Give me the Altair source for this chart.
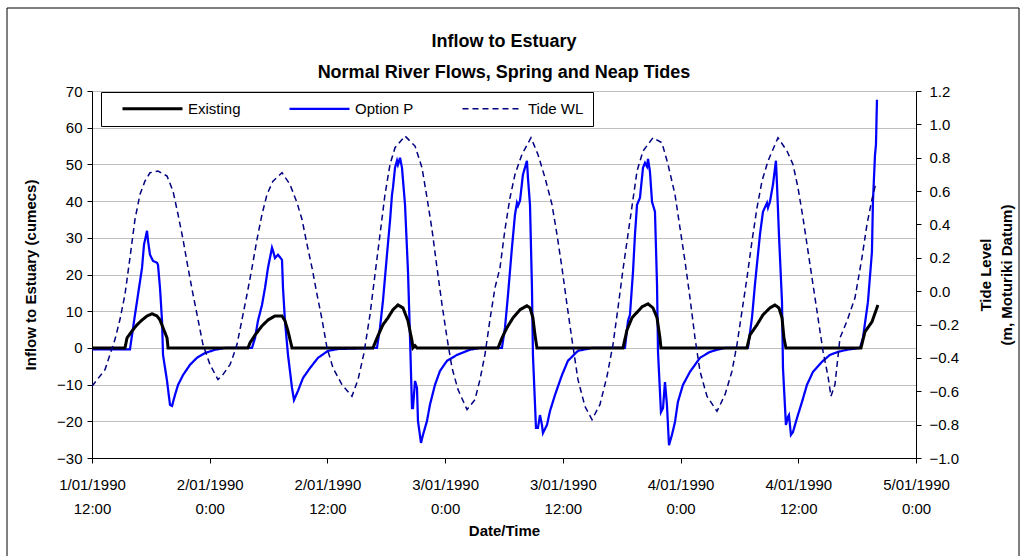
import json

import altair as alt
import pandas as pd

# ---- series names and styles ----
series_names = ["Existing", "Option P", "Tide WL"]
series_colors = ["#000000", "#0000ff", "#000080"]
series_widths = [3, 1.5, 1]
series_dashes = [[1, 0], [1, 0], [6, 4]]

# ---- x axis: hours after 1/01/1990 12:00 ----
x_tick_hours = [0, 12, 24, 36, 48, 60, 72, 84]
x_tick_dates = ["1/01/1990", "2/01/1990", "2/01/1990", "3/01/1990",
                "3/01/1990", "4/01/1990", "4/01/1990", "5/01/1990"]
x_tick_times = ["12:00", "0:00", "12:00", "0:00", "12:00", "0:00", "12:00", "0:00"]

flow_ticks = [-30, -20, -10, 0, 10, 20, 30, 40, 50, 60, 70]
tide_ticks = [-1.0, -0.8, -0.6, -0.4, -0.2, 0.0, 0.2, 0.4, 0.6, 0.8, 1.0, 1.2]

# ---- Existing inflow (cumecs) ----
existing_hours = [
    0, 3.36, 3.47, 3.57, 4.08, 4.59, 5.10, 5.61, 6.12, 6.63, 6.93, 7.24, 7.65, 7.75,
    15.90, 16.11, 16.62, 17.33, 17.94, 18.65, 19.37, 19.67, 19.98, 20.39,
    28.64, 29.15, 29.66, 30.17, 30.68, 31.19, 31.70, 32.21, 32.62, 32.72, 32.93, 33.13,
    41.39, 41.79, 42.30, 42.92, 43.63, 44.34, 44.65, 44.95, 45.16, 45.36,
    54.13, 54.54, 55.05, 56.07, 56.68, 57.19, 57.60, 57.90, 58.00,
    66.77, 67.07, 67.79, 68.40, 69.11, 69.62, 70.03, 70.34, 70.54, 70.74,
    78.39, 78.80, 79.51, 80.12,
]
existing_flow = [
    0, 0, 1.4, 2.7, 4.6, 6.3, 7.6, 8.7, 9.3, 8.7, 7.6, 5.5, 2.7, 0,
    0, 1.4, 3.5, 6.0, 7.6, 8.7, 8.7, 7.4, 4.6, 0,
    0, 3.3, 6.3, 8.2, 10.4, 11.7, 10.9, 7.4, 1.9, 0, 0.6, 0,
    0, 2.7, 5.5, 8.2, 10.4, 11.5, 10.9, 8.2, 3.5, 0,
    0, 4.9, 8.2, 11.2, 12.0, 10.9, 8.2, 2.7, 0,
    0, 3.5, 6.3, 9.0, 10.9, 11.7, 10.9, 8.2, 2.7, 0,
    0, 4.4, 7.1, 11.7,
]

# ---- Option P inflow (cumecs) ----
option_p_hours = [
    0, 3.87, 4.08, 4.38, 4.69, 5.10, 5.30, 5.61, 5.71, 5.91, 6.22, 6.63, 6.73, 6.93,
    7.14, 7.24, 7.65, 7.95, 8.16, 8.46, 8.77, 9.28, 9.99, 10.70, 11.52, 12.54, 13.56,
    16.31, 16.62, 16.92, 17.33, 17.64, 17.94, 18.35, 18.45, 18.65, 18.96, 19.37, 19.47,
    19.67, 19.98, 20.39, 20.59, 21.00, 21.51, 22.22, 23.04, 24.06, 25.08,
    29.05, 29.36, 29.66, 30.07, 30.38, 30.58, 30.68, 30.89, 31.09, 31.19, 31.40, 31.60,
    31.91, 32.21, 32.42, 32.62, 32.72, 32.93, 33.13, 33.23, 33.54, 33.74, 34.15, 34.45,
    34.96, 35.47, 36.19, 37.21, 38.53, 39.55,
    41.79, 42.10, 42.41, 42.81, 43.12, 43.32, 43.43, 43.63, 43.93, 44.34, 44.44, 44.65,
    44.85, 44.95, 45.26, 45.46, 45.67, 45.87, 45.97, 46.38, 46.69, 47.20, 47.91, 48.52,
    49.54, 50.97,
    54.33, 54.64, 54.84, 55.15, 55.35, 55.56, 55.86, 56.17, 56.37, 56.58, 56.68, 56.88,
    57.09, 57.39, 57.60, 57.70, 58.00, 58.21, 58.41, 58.61, 58.82, 59.12, 59.43, 59.73,
    60.24, 60.96, 61.98, 62.99, 63.71, 64.53,
    66.87, 67.28, 67.58, 68.09, 68.40, 68.81, 68.91, 69.11, 69.42, 69.72, 69.83, 70.03,
    70.34, 70.44, 70.74, 70.95, 71.05, 71.25, 71.46, 71.87, 72.38, 72.88, 73.50, 74.41,
    75.23, 76.04, 76.96, 78.29, 78.59, 79.10, 79.51, 79.61, 79.82, 79.92, 80.02,
]
option_p_flow = [
    -0.4, -0.4, 3.5, 9.0, 14.5, 21.8, 28.1, 31.9, 29.2, 25.4, 23.7, 23.2, 22.6, 16.4,
    7.4, -1.9, -9.0, -15.5, -15.8, -12.8, -10.1, -7.4, -4.6, -2.7, -1.4, -0.5, 0,
    0, 2.7, 7.4, 11.7, 16.4, 21.8, 27.3, 26.5, 24.5, 25.4, 24.0, 16.4,
    7.4, -1.9, -10.9, -14.2, -11.7, -8.2, -5.5, -2.7, -0.8, -0.3,
    0, 5.5, 12.8, 25.4, 34.6, 41.7, 43.6, 49.1, 51.0, 49.9, 51.8, 49.1,
    39.0, 21.0, 2.7, -16.4, -16.4, -9.0, -10.9, -19.9, -25.9, -23.7, -19.9, -15.5,
    -10.1, -6.3, -3.5, -1.9, -0.5, 0,
    0, 5.5, 14.5, 27.3, 36.3, 39.5, 38.7, 40.1, 47.2, 51.0, 46.4, 39.0,
    16.4, -1.9, -21.8, -21.8, -18.3, -21.0, -23.2, -21.0, -17.2, -12.8, -7.4, -3.5,
    -0.8, 0,
    0, 7.4, 9.0, 20.7, 30.8, 39.0, 40.9, 49.1, 50.4, 49.4, 51.5, 48.0,
    39.8, 37.1, 17.2, -1.1, -17.5, -16.4, -9.3, -15.5, -26.5, -23.7, -20.2, -14.7,
    -10.1, -6.5, -2.7, -1.1, -0.5, 0,
    0, 8.2, 17.2, 30.8, 37.1, 39.5, 38.2, 39.8, 44.5, 51.0, 44.5, 30.8,
    12.5, -5.5, -21.0, -18.8, -18.3, -23.7, -22.9, -19.1, -14.7, -10.1, -6.5, -3.8,
    -1.9, -1.1, -0.5, 0, 2.7, 12.5, 26.2, 39.8, 52.6, 55.4, 67.6,
]

# ---- Tide water level (m, Moturiki Datum) ----
tide_hours = [
    0, 1.33, 1.83, 2.34, 2.85, 3.36, 3.87, 4.38, 4.89, 5.40, 5.91, 6.73, 7.65, 8.26,
    8.77, 9.28, 9.79, 10.30, 10.81, 11.31, 12.03, 12.84, 13.35, 14.07, 14.27, 14.78,
    15.29, 15.80, 16.31, 16.82, 17.33, 17.84, 18.45, 19.37, 20.18, 20.90, 21.41, 21.92,
    22.43, 22.94, 23.45, 23.96, 24.57, 25.48, 26.50, 27.12, 27.73, 28.34, 28.85, 29.36,
    29.87, 30.38, 30.89, 31.91, 32.93, 33.64, 34.15, 34.66, 35.17, 35.68, 36.19, 36.70,
    37.31, 38.23, 39.04, 39.55, 40.06, 40.57, 41.08, 41.59, 42.10, 42.61, 43.12, 43.83,
    44.75, 45.46, 46.18, 46.89, 47.40, 47.91, 48.42, 48.93, 49.54, 50.25, 50.97, 51.78,
    52.50, 53.11, 53.62, 54.13, 54.64, 55.15, 55.56, 56.17, 57.19, 58.10, 58.72, 59.43,
    59.94, 60.45, 60.96, 61.47, 61.98, 62.69, 63.71, 64.53, 65.24, 65.75, 66.26, 66.77,
    67.28, 67.79, 68.30, 68.91, 69.93, 70.85, 71.46, 71.97, 72.48, 72.99, 73.50, 74.01,
    74.52, 75.03, 75.33, 75.74, 76.25, 76.96, 77.78, 78.49, 79.00, 79.51, 79.92,
]
tide_level = [
    -0.57, -0.47, -0.38, -0.29, -0.17, -0.02, 0.20, 0.43, 0.58, 0.66, 0.71, 0.72, 0.69, 0.60,
    0.46, 0.31, 0.14, -0.02, -0.17, -0.32, -0.44, -0.53, -0.50, -0.44, -0.41, -0.32,
    -0.17, -0.02, 0.14, 0.31, 0.46, 0.58, 0.66, 0.71, 0.64, 0.53, 0.43, 0.28,
    0.14, -0.02, -0.17, -0.34, -0.46, -0.56, -0.63, -0.53, -0.37, -0.14, 0.10, 0.34,
    0.58, 0.76, 0.86, 0.93, 0.87, 0.74, 0.56, 0.37, 0.14, -0.08, -0.28, -0.46,
    -0.59, -0.71, -0.65, -0.53, -0.38, -0.17, 0.02, 0.14, 0.37, 0.56, 0.70, 0.82,
    0.92, 0.82, 0.68, 0.52, 0.34, 0.14, -0.08, -0.29, -0.53, -0.69, -0.77, -0.68,
    -0.51, -0.32, -0.10, 0.13, 0.34, 0.55, 0.72, 0.84, 0.92, 0.89, 0.76, 0.58,
    0.38, 0.18, -0.04, -0.28, -0.48, -0.63, -0.72, -0.62, -0.48, -0.32, -0.12, 0.08,
    0.30, 0.50, 0.66, 0.78, 0.92, 0.84, 0.76, 0.62, 0.44, 0.24, 0.04, -0.16,
    -0.36, -0.51, -0.63, -0.56, -0.28, -0.18, -0.04, 0.20, 0.40, 0.55, 0.65,
]

existing_df = pd.DataFrame({"hours": existing_hours, "flow": existing_flow, "series": "Existing"})
option_p_df = pd.DataFrame({"hours": option_p_hours, "flow": option_p_flow, "series": "Option P"})
tide_df = pd.DataFrame({"hours": tide_hours, "level": tide_level, "series": "Tide WL"})

FONT = "Liberation Sans"
LABEL_SIZE = 15
TITLE_SIZE = 15

# two-line date / time labels looked up by tick index
tick_label_pairs = json.dumps([[d, t] for d, t in zip(x_tick_dates, x_tick_times)])

x_enc = alt.X(
    "hours:Q",
    scale=alt.Scale(domain=[0, 84], nice=False, zero=False),
    axis=alt.Axis(
        values=x_tick_hours,
        labelExpr=f"{tick_label_pairs}[round(datum.value / 12)]",
        title="Date/Time",
        grid=False,
        tickSize=5,
        labelPadding=14,
        labelLineHeight=24,
        labelFlush=False,
        labelOverlap=False,
        titleY=72,
        titleBaseline="middle",
    ),
)

# long horizontal stroke used as the legend sample
legend = alt.Legend(
    title=None,
    orient="none",
    legendX=9,
    legendY=1,
    direction="horizontal",
    symbolType="M1,0H13",
    symbolSize=100,
    labelFontSize=LABEL_SIZE,
    labelFont=FONT,
    labelColor="black",
    labelOffset=63,
    columnPadding=36,
    padding=9,
    strokeColor="black",
    fillColor="white",
)

color_enc = alt.Color("series:N", scale=alt.Scale(domain=series_names, range=series_colors), legend=legend)
width_enc = alt.StrokeWidth("series:N", scale=alt.Scale(domain=series_names, range=series_widths), legend=legend)
dash_enc = alt.StrokeDash("series:N", scale=alt.Scale(domain=series_names, range=series_dashes), legend=legend)

flow_y = alt.Y(
    "flow:Q",
    scale=alt.Scale(domain=[-30, 70], nice=False, zero=False),
    axis=alt.Axis(
        values=flow_ticks,
        title="Inflow to Estuary (cumecs)",
        grid=True,
        gridColor="#c0c0c0",
        tickSize=5,
        labelPadding=5,
        titleX=-54,
        titleAngle=270,
        titleBaseline="bottom",
        titleAlign="center",
    ),
)

option_p_line = alt.Chart(option_p_df).mark_line().encode(
    x=x_enc, y=flow_y, color=color_enc, strokeWidth=width_enc, strokeDash=dash_enc
)
existing_line = alt.Chart(existing_df).mark_line().encode(
    x=x_enc, y=flow_y, color=color_enc, strokeWidth=width_enc, strokeDash=dash_enc
)
flow_layers = alt.layer(option_p_line, existing_line)

tide_line = alt.Chart(tide_df).mark_line().encode(
    x=x_enc,
    y=alt.Y(
        "level:Q",
        scale=alt.Scale(domain=[-1.0, 1.2], nice=False, zero=False),
        axis=alt.Axis(
            orient="right",
            values=tide_ticks,
            format=".1f",
            title=["Tide Level", "(m, Moturiki Datum)"],
            grid=False,
            tickSize=5,
            labelPadding=8,
            titleAngle=270,
            titleBaseline="top",
            titleAlign="center",
            titleX=62,
            titleLineHeight=21,
        ),
    ),
    color=color_enc,
    strokeWidth=width_enc,
    strokeDash=dash_enc,
)

# outer border drawn around the whole figure
frame = alt.Chart(pd.DataFrame({"k": [0]})).mark_rect(
    fill=None, stroke="black", strokeWidth=1
).encode(
    x=alt.value(-85), x2=alt.value(927), y=alt.value(-83), y2=alt.value(475)
)

chart = (
    alt.layer(flow_layers, tide_line, frame)
    .resolve_scale(y="independent")
    .properties(
        width=824,
        height=367,
        autosize=alt.AutoSizeParams(type="none"),
        padding={"left": 92, "top": 91, "right": 111, "bottom": 98},
        title=alt.Title(
            ["Inflow to Estuary", "Normal River Flows, Spring and Neap Tides"],
            fontSize=18,
            fontWeight="bold",
            font=FONT,
            anchor="middle",
            frame="group",
            baseline="bottom",
            lineHeight=31,
            offset=0,
            dy=92,
            color="black",
        ),
        background="white",
    )
    .configure_view(stroke=None)
    .configure_axis(
        labelFont=FONT,
        titleFont=FONT,
        labelFontSize=LABEL_SIZE,
        titleFontSize=TITLE_SIZE,
        titleFontWeight="bold",
        labelColor="black",
        titleColor="black",
        domainColor="black",
        tickColor="black",
    )
)

chart.save("out.html", embed_options={"renderer": "svg", "actions": False})
